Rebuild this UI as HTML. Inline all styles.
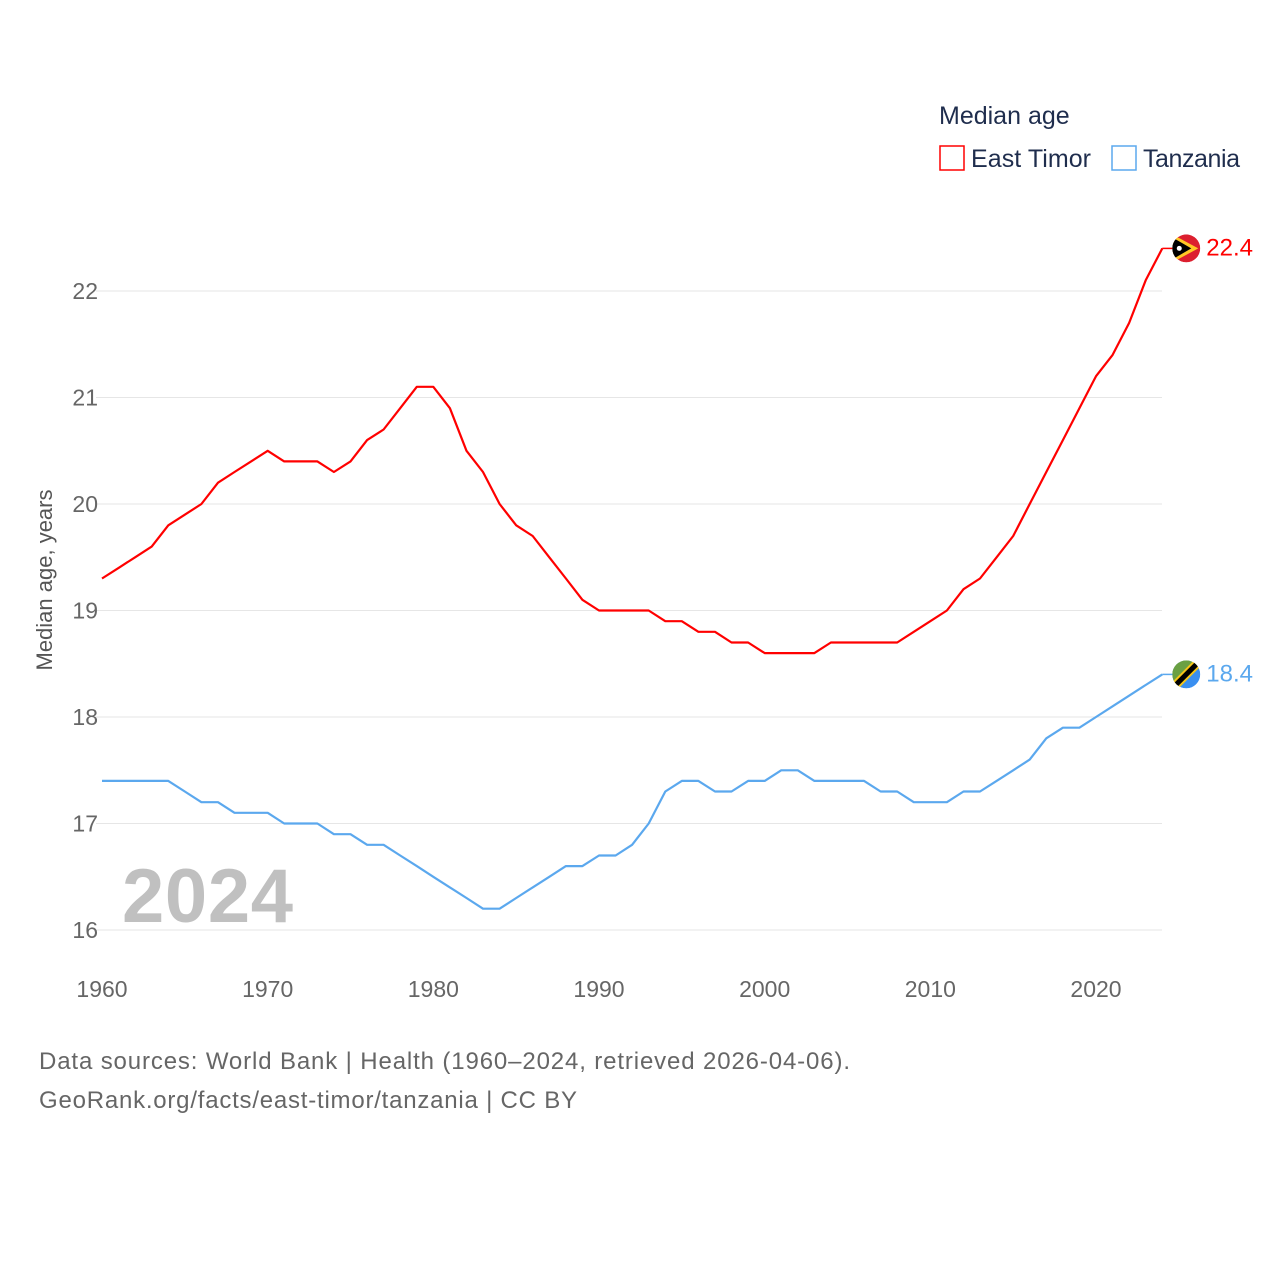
<!DOCTYPE html>
<html><head><meta charset="utf-8"><style>
body{margin:0;background:#fff;}
svg{display:block;font-family:"Liberation Sans",sans-serif;}
</style></head><body>
<svg id="chart" width="1280" height="1280" viewBox="0 0 1280 1280">
<defs></defs>
<g id="grid"></g>
<g id="yticks"></g>
<g id="xticks"></g>
<text x="52" y="580" font-size="22" fill="#555" text-anchor="middle" transform="rotate(-90 52 580)">Median age, years</text>
<text x="122" y="922" font-size="76" font-weight="bold" fill="#c0c0c0" textLength="171">2024</text>
<g id="series"></g>
<g>
<text x="939" y="124" font-size="25" fill="#1f2d4d">Median age</text>
<g><rect x="940" y="146" width="24" height="24" fill="none" stroke="#ff0000" stroke-width="1.5"/><text x="971" y="167" font-size="25" fill="#1f2d4d" textLength="120">East Timor</text></g>
<g><rect x="1112" y="146" width="24" height="24" fill="none" stroke="#5ba8ee" stroke-width="1.5"/><text x="1143" y="167" font-size="25" fill="#1f2d4d" textLength="97">Tanzania</text></g>
</g>
<text x="39" y="1069" font-size="24" fill="#666" textLength="811">Data sources: World Bank | Health (1960–2024, retrieved 2026-04-06).</text>
<text x="39" y="1108" font-size="24" fill="#666" textLength="538">GeoRank.org/facts/east-timor/tanzania | CC BY</text>
</svg>
<script>
const years=[];for(let y=1960;y<=2024;y++)years.push(y);
const eastTimor=[19.3,19.4,19.5,19.6,19.8,19.9,20.0,20.2,20.3,20.4,20.5,20.4,20.4,20.4,20.3,20.4,20.6,20.7,20.9,21.1,21.1,20.9,20.5,20.3,20.0,19.8,19.7,19.5,19.3,19.1,19.0,19.0,19.0,19.0,18.9,18.9,18.8,18.8,18.7,18.7,18.6,18.6,18.6,18.6,18.7,18.7,18.7,18.7,18.7,18.8,18.9,19.0,19.2,19.3,19.5,19.7,20.0,20.3,20.6,20.9,21.2,21.4,21.7,22.1,22.4];
const tanzania=[17.4,17.4,17.4,17.4,17.4,17.3,17.2,17.2,17.1,17.1,17.1,17.0,17.0,17.0,16.9,16.9,16.8,16.8,16.7,16.6,16.5,16.4,16.3,16.2,16.2,16.3,16.4,16.5,16.6,16.6,16.7,16.7,16.8,17.0,17.3,17.4,17.4,17.3,17.3,17.4,17.4,17.5,17.5,17.4,17.4,17.4,17.4,17.3,17.3,17.2,17.2,17.2,17.3,17.3,17.4,17.5,17.6,17.8,17.9,17.9,18.0,18.1,18.2,18.3,18.4];
const yTicks=[16,17,18,19,20,21,22];
const xTicks=[1960,1970,1980,1990,2000,2010,2020];
const NS='http://www.w3.org/2000/svg';
const X=v=>102+(v-1960)*(994/60);
const Y=v=>930-(v-16)*106.5;
function mk(tag,attrs,parent){const e=document.createElementNS(NS,tag);for(const k in attrs)e.setAttribute(k,attrs[k]);parent.appendChild(e);return e;}
const grid=document.getElementById('grid'),yt=document.getElementById('yticks'),xt=document.getElementById('xticks'),ser=document.getElementById('series');
const defs=document.querySelector('defs');
yTicks.forEach(t=>{
 const l=mk('line',{x1:96,x2:1162,y1:Y(t),y2:Y(t),stroke:'#e6e6e6','stroke-width':1},grid);
 
 
 const tx=mk('text',{x:98,y:Y(t)+8,'font-size':23,fill:'#666','text-anchor':'end'},yt);tx.textContent=t;
 
 
});
xTicks.forEach(t=>{
 const tx=mk('text',{x:X(t),y:997,'font-size':23,fill:'#666','text-anchor':'middle'},xt);tx.textContent=t;
 
 
});
function drawSeries(vals,color,name){
 const pts=vals.map((v,i)=>X(years[i]).toFixed(1)+','+Y(v).toFixed(1));
 const last=vals[vals.length-1],lx=X(years[years.length-1]),ly=Y(last);
 const p=mk('polyline',{points:pts.join(' '),fill:'none',stroke:color,'stroke-width':2.2,'stroke-linejoin':'round'},ser);
 
 
 mk('line',{x1:lx,x2:lx+12,y1:ly,y2:ly,stroke:color,'stroke-width':1.5},ser);
 const lab=mk('text',{x:lx+44,y:ly+7,'font-size':24,fill:color},ser);lab.textContent=last.toFixed(1);
 
 
 return {lx,ly};
}
const a=drawSeries(eastTimor,'#ff0000','east-timor');
const b=drawSeries(tanzania,'#5ba8ee','tanzania');
const cx=a.lx+24;
function clip(id,cy){const c=mk('clipPath',{id:id},defs);mk('circle',{cx:cx,cy:cy,r:14},c);}
clip('c1',a.ly);clip('c2',b.ly);
const f1=mk('g',{'clip-path':'url(#c1)'},ser);


mk('circle',{cx:cx,cy:a.ly,r:14,fill:'#dc1f2f'},f1);
mk('path',{d:`M${cx-14} ${a.ly-14} L${cx+12} ${a.ly} L${cx-14} ${a.ly+14}Z`,fill:'#ffc726'},f1);
mk('path',{d:`M${cx-14} ${a.ly-11} L${cx+5} ${a.ly} L${cx-14} ${a.ly+11}Z`,fill:'#000'},f1);
mk('circle',{cx:cx-7,cy:a.ly,r:2.5,fill:'#fff'},f1);
const f2=mk('g',{'clip-path':'url(#c2)'},ser);


mk('circle',{cx:cx,cy:b.ly,r:14,fill:'#3a8ff0'},f2);
mk('path',{d:`M${cx-14} ${b.ly+14} L${cx-14} ${b.ly-14} L${cx+14} ${b.ly-14}Z`,fill:'#6aa043'},f2);
mk('line',{x1:cx-14,y1:b.ly+14,x2:cx+14,y2:b.ly-14,stroke:'#f5c518','stroke-width':9},f2);
mk('line',{x1:cx-14,y1:b.ly+14,x2:cx+14,y2:b.ly-14,stroke:'#000','stroke-width':5},f2);
</script>
</body></html>
